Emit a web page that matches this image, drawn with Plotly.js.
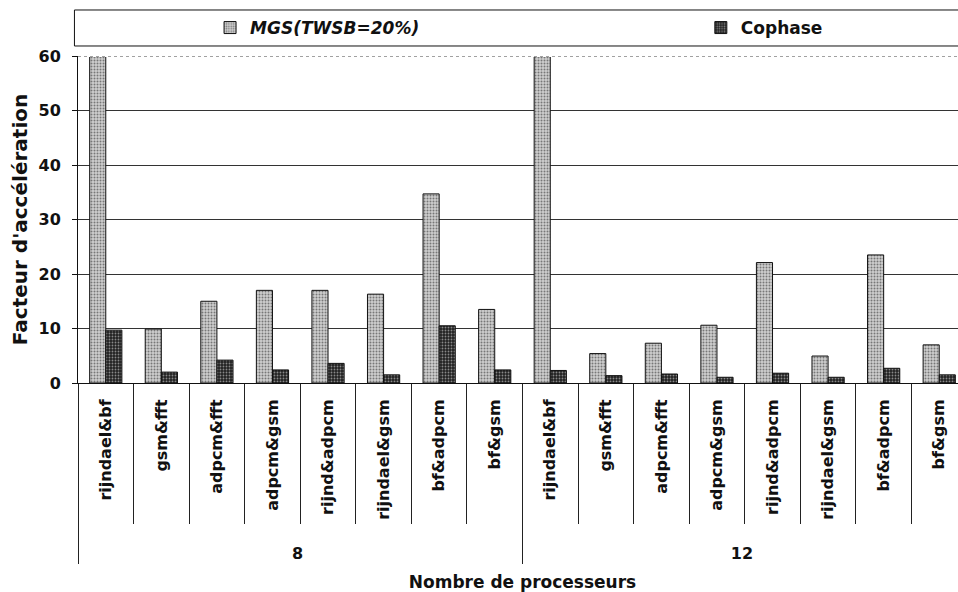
<!DOCTYPE html>
<html><head><meta charset="utf-8">
<script src="https://cdn.plot.ly/plotly-3.0.1.min.js"></script>
<style>html,body{margin:0;padding:0;overflow:hidden;background:#fff}</style>
</head><body><div id="chart" style="width:968px;height:592px"></div>
<script>
const processors = ['8','8','8','8','8','8','8','8','12','12','12','12','12','12','12','12'];
const pairs = ['rijndael&bf','gsm&fft','adpcm&fft','adpcm&gsm','rijnd&adpcm','rijndael&gsm','bf&adpcm','bf&gsm',
               'rijndael&bf','gsm&fft','adpcm&fft','adpcm&gsm','rijnd&adpcm','rijndael&gsm','bf&adpcm','bf&gsm'];
const mgs =     [60, 9.9, 15.0, 17.0, 17.0, 16.3, 34.7, 13.5,  60, 5.4, 7.3, 10.6, 22.1, 4.95, 23.5, 7.0];
const cophase = [9.7, 2.0, 4.2, 2.4, 3.6, 1.5, 10.5, 2.4,   2.3, 1.35, 1.65, 1.05, 1.8, 1.05, 2.7, 1.5];
const yTicks = [0,10,20,30,40,50,60];

const FONT = 'DejaVu Sans';
const data = [
  {type:'bar', name:'<i>MGS(TWSB=20%)</i>', x:[processors, pairs], y:mgs, legend:'legend',
   marker:{color:'#c4c4c4', line:{color:'#111', width:1},
     pattern:{shape:'.', bgcolor:'#cfcfcf', fgcolor:'#777', size:3, solidity:0.35}}},
  {type:'bar', name:'Cophase', x:[processors, pairs], y:cophase, legend:'legend2',
   marker:{color:'#2a2a2a', line:{color:'#111', width:1},
     pattern:{shape:'.', bgcolor:'#222', fgcolor:'#888', size:3, solidity:0.3}}}
];
const legFont = {family:FONT, size:17, weight:'bold', color:'#111'};
const layout = {
  width:968, height:592,
  margin:{l:78, r:1, t:56, b:209},
  paper_bgcolor:'#fff', plot_bgcolor:'#fff',
  font:{family:FONT, color:'#111', size:16, weight:'bold'},
  barmode:'group', bargap:0.42, bargroupgap:0,
  showlegend:true,
  legend:{orientation:'h', xref:'container', yref:'container', x:0.217, xanchor:'left', y:0.9527, yanchor:'middle',
    font:legFont, bgcolor:'rgba(0,0,0,0)', borderwidth:0},
  legend2:{orientation:'h', xref:'container', yref:'container', x:0.724, xanchor:'left', y:0.9527, yanchor:'middle',
    font:legFont, bgcolor:'rgba(0,0,0,0)', borderwidth:0},
  xaxis:{type:'multicategory', tickangle:-90, ticks:'outside', ticklen:140, tickcolor:'#222', tickwidth:1,
    showdividers:true, dividercolor:'#222', dividerwidth:1, showline:true, linecolor:'#111', linewidth:1,
    tickprefix:'\u00a0\u00a0\u00a0',
    ticklabelstandoff:9, tickfont:{family:FONT, size:16, weight:'bold'},
    title:{text:'Nombre de processeurs', font:{family:FONT, size:17, weight:'bold'}}},
  yaxis:{range:[0,60], tickvals:yTicks, ticks:'outside', ticklen:5, tickcolor:'#111',
    showline:true, linecolor:'#111', linewidth:1, showgrid:true, gridcolor:'#333', gridwidth:1,
    zeroline:false, tickfont:{family:FONT, size:16, weight:'bold'}, ticklabelstandoff:8,
    title:{text:"Facteur d'accélération", font:{family:FONT, size:20, weight:'bold'}, standoff:5}},
  shapes:[
    {type:'line', xref:'paper', yref:'y', x0:0, x1:1, y0:60, y1:60, line:{color:'#fff', width:2}},
    {type:'line', xref:'paper', yref:'y', x0:0, x1:1, y0:60, y1:60, line:{color:'#444', width:1, dash:'dot'}},
    {type:'rect', xref:'paper', yref:'paper', x0:-0.004, x1:1.01, y0:1.0306, y1:1.1407, line:{color:'#111', width:1}}
  ]
};
Plotly.newPlot('chart', data, layout, {displayModeBar:false, staticPlot:true});
</script></body></html>
